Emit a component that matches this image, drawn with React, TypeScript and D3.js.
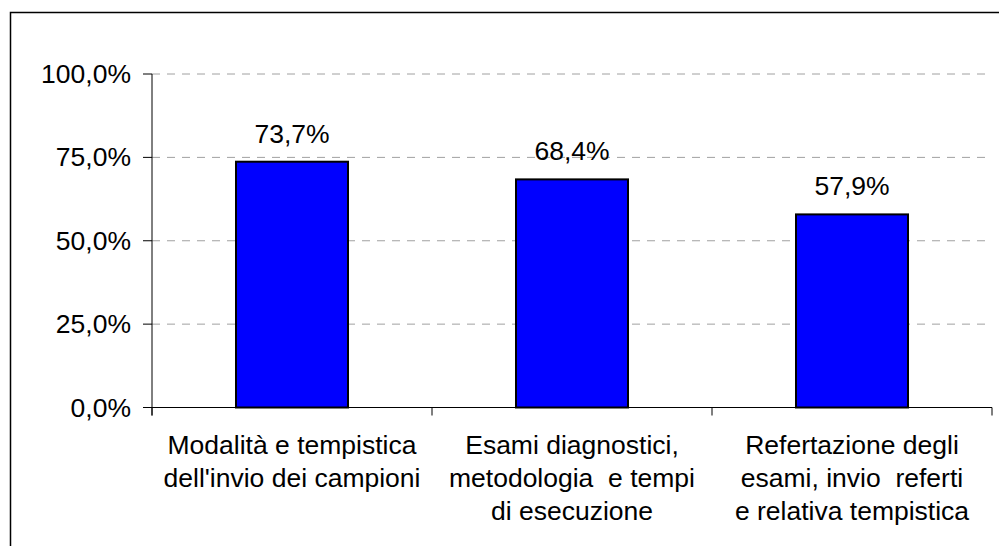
import React from 'react';
import * as d3 from 'd3';

const categories = [
  ['Modalità e tempistica', "dell'invio dei campioni"],
  ['Esami diagnostici,', 'metodologia  e tempi', 'di esecuzione'],
  ['Refertazione degli', 'esami, invio  referti', 'e relativa tempistica'],
];
const values = [73.7, 68.4, 57.9];
const yTicks = [0, 25, 50, 75, 100];

const W = 999;
const H = 546;
const left = 152;
const right = 992;
const top = 74;
const bottom = 407.5;
const FONT = '"Liberation Sans", Arial, sans-serif';

const fmt = (v: number) => v.toFixed(1).replace('.', ',') + '%';

const App = () => {
  const x = d3.scaleBand<number>().domain(d3.range(values.length)).range([left, right]).paddingInner(0.6).paddingOuter(0.3);
  const band = d3.scaleBand<number>().domain(d3.range(values.length)).range([left, right]);
  const y = d3.scaleLinear().domain([0, 100]).range([bottom, top]);

  return (
    <div style={{ position: 'absolute', left: 0, top: 0 }}>
      <svg width={W} height={H} style={{ display: 'block', fontFamily: FONT }}>
        <rect x={0} y={0} width={W} height={H} fill="#fff" />
        <rect x={10.5} y={12.5} width={W + 20} height={H + 20} fill="none" stroke="#000" strokeWidth={1.5} />

        {yTicks.filter(t => t > 0).map(t => (
          <line key={'g' + t} x1={left} x2={right} y1={y(t)} y2={y(t)}
            stroke="#a0a0a0" strokeWidth={1} strokeDasharray="8,7" />
        ))}

        {values.map((v, i) => (
          <rect key={'b' + i} x={x(i)} y={y(v)} width={x.bandwidth()} height={bottom - y(v)}
            fill="#0000ff" stroke="#000" strokeWidth={2} />
        ))}

        <line x1={left} x2={left} y1={top} y2={bottom + 8} stroke="#000" strokeWidth={1} />
        <line x1={left} x2={right} y1={bottom} y2={bottom} stroke="#000" strokeWidth={1} />
        {yTicks.map(t => (
          <g key={'t' + t}>
            <line x1={left - 9} x2={left} y1={y(t)} y2={y(t)} stroke="#000" />
            <text x={131} y={y(t) + 9} textAnchor="end" fontSize={26.5} fill="#000">{fmt(t)}</text>
          </g>
        ))}
        {d3.range(values.length + 1).map(i => {
          const xx = i < values.length ? band(i)! : right;
          return <line key={'xt' + i} x1={xx} x2={xx} y1={bottom} y2={bottom + 8} stroke="#000" />;
        })}

        {values.map((v, i) => (
          <text key={'v' + i} x={x(i)! + x.bandwidth() / 2} y={y(v) - 19} textAnchor="middle" fontSize={26.5} fill="#000">
            {fmt(v)}
          </text>
        ))}

        {categories.map((lines, i) => (
          <text key={'c' + i} textAnchor="middle" fontSize={26.5} fill="#000" style={{ whiteSpace: 'pre' }}>
            {lines.map((l, j) => (
              <tspan key={j} x={band(i)! + band.bandwidth() / 2} y={454 + j * 33}>{l}</tspan>
            ))}
          </text>
        ))}
      </svg>
    </div>
  );
};

export default App;
